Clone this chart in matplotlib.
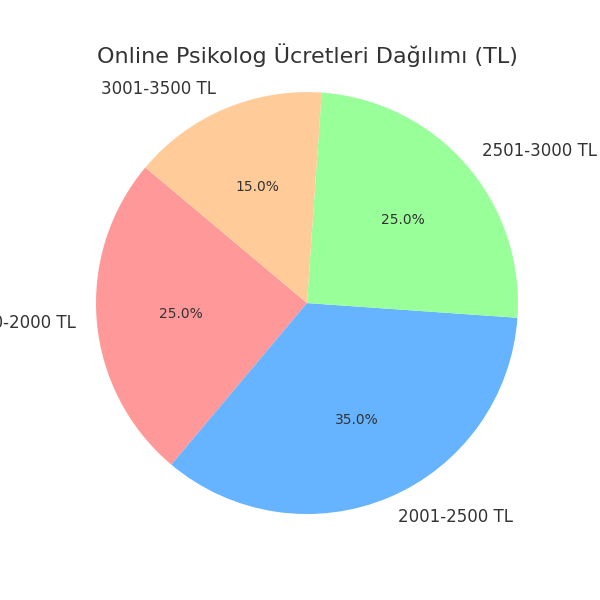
import matplotlib
matplotlib.use("Agg")
import matplotlib.pyplot as plt

etiketler = ["1500-2000 TL", "2001-2500 TL", "2501-3000 TL", "3001-3500 TL"]
oranlar = [25, 35, 25, 15]
renkler = ["#ff9999", "#66b3ff", "#99ff99", "#ffcc99"]

fig = plt.figure(figsize=(6, 6), dpi=100)
ax = fig.add_axes([0.0721, 0.0554, 0.879, 0.879])

ax.pie(oranlar, labels=etiketler, colors=renkler, autopct="%1.1f%%",
       startangle=140, textprops={"color": "#333333", "fontsize": 12})
for t in ax.texts:
    if t.get_text().endswith("%"):
        t.set_fontsize(10)
ax.set_xlim(-1.25, 1.25)
ax.set_ylim(-1.25, 1.25)
ax.set_aspect("equal")

fig.text(0.512, 1 - 55 / 600, "Online Psikolog Ücretleri Dağılımı (TL)",
         ha="center", va="center", fontsize=16, color="#333333")

fig.savefig("out.png")
